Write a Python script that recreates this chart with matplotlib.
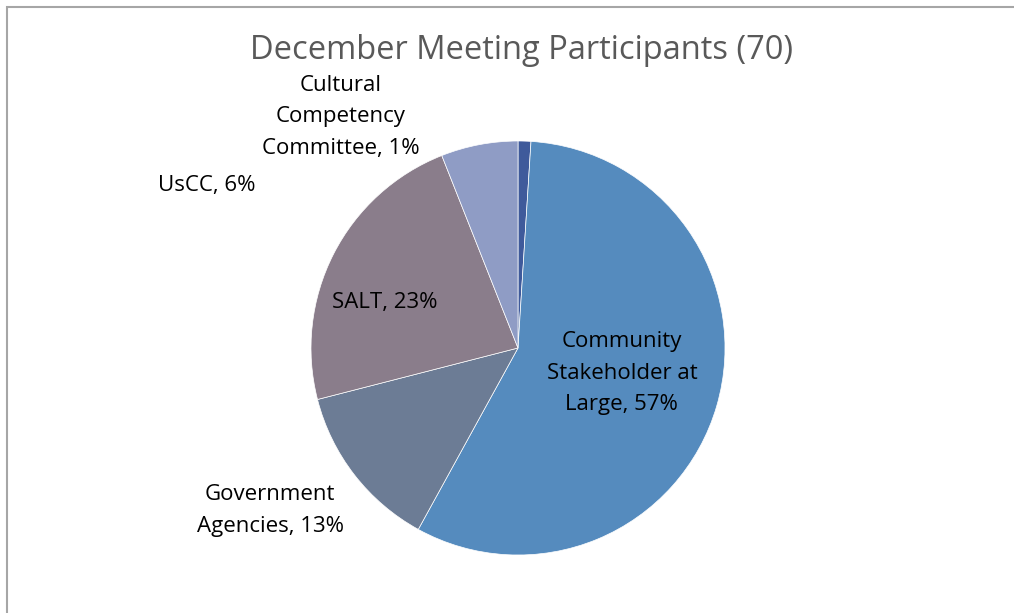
import matplotlib
matplotlib.use('Agg')
from matplotlib import pyplot as plt
from matplotlib.patches import Rectangle

plt.rcParams['font.family'] = ['Open Sans', 'DejaVu Sans']

# December meeting participants (70), share in percent
groups = ['Cultural\nCompetency\nCommittee', 'Community\nStakeholder at\nLarge',
          'Government\nAgencies', 'SALT', 'UsCC']
shares = [1, 57, 13, 23, 6]
colors = ['#3F5A9B', '#558BBE', '#6C7C95', '#8A7D8B', '#8F9CC5']

fig = plt.figure(figsize=(10.14, 6.13), dpi=100)
ax = fig.add_axes([0.3067, 0.0946, 0.4083, 0.6754])

wedges, _ = ax.pie(shares, colors=colors, startangle=90, counterclock=False,
                   wedgeprops={'edgecolor': 'white', 'linewidth': 0.5})
ax.set_xlim(-1, 1)
ax.set_ylim(-1, 1)
ax.set_aspect('equal')

# label spots picked by eye, in pie radius units
label_pos = [(-0.855, 1.116), (0.502, -0.121), (-1.198, -0.787), (-0.643, 0.222), (-1.502, 0.783)]
for name, pct, (x, y) in zip(groups, shares, label_pos):
    ax.text(x, y, f'{name}, {pct}%', ha='center', va='center', fontsize=16, color='black',
            linespacing=1.68, clip_on=False)

fig.text(0.514, 0.918, 'December Meeting Participants (70)', ha='center', va='center',
         fontsize=23.5, color='#595959')

# chart frame, cut off on the right and bottom
fig.patches.append(Rectangle((7 / 1014, -0.5), 2, 1.5 - 7 / 613, transform=fig.transFigure,
                             fill=False, edgecolor='#A6A6A6', linewidth=1.5))

fig.savefig('out.png', dpi=100)
